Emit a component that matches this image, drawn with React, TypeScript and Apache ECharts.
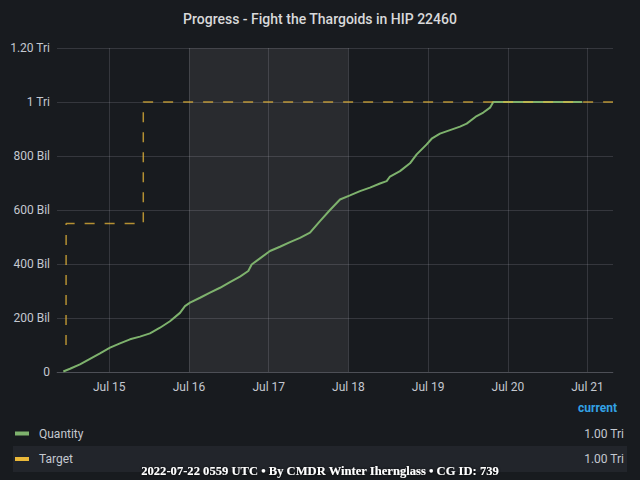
import { useEffect, useRef } from 'react';
import * as echarts from 'echarts';

const chartTitle = 'Progress - Fight the Thargoids in HIP 22460';
const footerText = '2022-07-22 0559 UTC • By CMDR Winter Ihernglass • CG ID: 739';

// Quantity delivered, in billions
const quantityTimes = [
    '2022-07-14T10:09Z', '2022-07-14T12:10Z', '2022-07-14T15:10Z', '2022-07-14T18:11Z',
    '2022-07-14T21:12Z', '2022-07-15T00:13Z', '2022-07-15T03:13Z', '2022-07-15T06:14Z',
    '2022-07-15T09:14Z', '2022-07-15T12:15Z', '2022-07-15T15:16Z', '2022-07-15T18:16Z',
    '2022-07-15T21:17Z', '2022-07-15T22:47Z', '2022-07-16T00:18Z', '2022-07-16T03:19Z',
    '2022-07-16T06:19Z', '2022-07-16T09:20Z', '2022-07-16T12:20Z', '2022-07-16T15:21Z',
    '2022-07-16T17:51Z', '2022-07-16T18:52Z', '2022-07-16T21:22Z', '2022-07-17T00:23Z',
    '2022-07-17T03:23Z', '2022-07-17T06:25Z', '2022-07-17T09:25Z', '2022-07-17T12:26Z',
    '2022-07-17T15:26Z', '2022-07-17T18:27Z', '2022-07-17T21:28Z', '2022-07-18T00:28Z',
    '2022-07-18T03:29Z', '2022-07-18T06:29Z', '2022-07-18T09:30Z', '2022-07-18T11:31Z',
    '2022-07-18T12:31Z', '2022-07-18T15:32Z', '2022-07-18T18:32Z', '2022-07-18T20:33Z',
    '2022-07-18T23:34Z', '2022-07-19T01:04Z', '2022-07-19T03:34Z', '2022-07-19T06:35Z',
    '2022-07-19T09:36Z', '2022-07-19T11:37Z', '2022-07-19T14:37Z', '2022-07-19T16:37Z',
    '2022-07-19T18:38Z', '2022-07-19T19:37Z', '2022-07-20T22:25Z'
];
const quantityValues = [
    2, 12, 28, 49,
    69, 90, 106, 121,
    131, 143, 164, 188,
    219, 244, 257, 275,
    294, 312, 333, 353,
    374, 398, 421, 448,
    464, 481, 497, 516,
    559, 600, 639, 654,
    670, 683, 698, 707,
    724, 744, 773, 806,
    843, 864, 883, 896,
    909, 920, 948, 961,
    979, 1000, 1000
];

// Target, in billions (stepped)
const targetTimes = ['2022-07-14T10:58Z', '2022-07-14T11:00Z', '2022-07-15T10:14Z', '2022-07-21T07:40Z'];
const targetValues = [100, 550, 1000, 1000];

const highlightRange = ['2022-07-16T00:00Z', '2022-07-18T00:00Z'];
const axisRange = ['2022-07-14T08:15Z', '2022-07-21T07:40Z'];

const legendNames = ['Quantity', 'Target'];
const legendColors = ['#7EB26D', '#EAB839'];
const legendCurrent = ['1.00 Tri', '1.00 Tri'];
const monthNames = ['Jan', 'Feb', 'Mar', 'Apr', 'May', 'Jun', 'Jul', 'Aug', 'Sep', 'Oct', 'Nov', 'Dec'];

const toMs = (s: string) => Date.parse(s);

const formatValue = (v: number) => {
    if (v === 0) return '0';
    if (v < 1000) return `${v} Bil`;
    if (v === 1000) return '1 Tri';
    return `${(v / 1000).toFixed(2)} Tri`;
};

const App = () => {
    const chartRef = useRef<HTMLDivElement>(null);

    useEffect(() => {
        if (!chartRef.current) return;
        const chart = echarts.init(chartRef.current, null, { renderer: 'svg' });

        const textColor = '#c4c8d0';
        const gridColor = 'rgba(204, 204, 220, 0.16)';

        const legendGraphics: any[] = [
            {
                type: 'rect',
                shape: { x: 13, y: 446, width: 614, height: 26 },
                style: { fill: '#22252b' },
                z: 1
            },
            {
                type: 'text',
                x: 617,
                y: 408,
                style: {
                    text: 'current',
                    fill: '#33a2e5',
                    font: 'bold 12px Roboto',
                    textAlign: 'right',
                    textVerticalAlign: 'middle'
                },
                z: 2
            }
        ];
        legendNames.forEach((name, i) => {
            const cy = 433.5 + i * 25.5;
            legendGraphics.push(
                {
                    type: 'rect',
                    shape: { x: 15, y: cy - 2, width: 14, height: 4 },
                    style: { fill: legendColors[i] },
                    z: 2
                },
                {
                    type: 'text',
                    x: 39,
                    y: cy,
                    style: {
                        text: name,
                        fill: textColor,
                        font: '12px Roboto',
                        textAlign: 'left',
                        textVerticalAlign: 'middle'
                    },
                    z: 2
                },
                {
                    type: 'text',
                    x: 624,
                    y: cy,
                    style: {
                        text: legendCurrent[i],
                        fill: textColor,
                        font: '12px Roboto',
                        textAlign: 'right',
                        textVerticalAlign: 'middle'
                    },
                    z: 2
                }
            );
        });
        legendGraphics.push({
            type: 'text',
            x: 320,
            y: 471,
            style: {
                text: footerText,
                fill: '#ffffff',
                font: 'bold 12.6px "Liberation Serif"',
                textAlign: 'center',
                textVerticalAlign: 'middle',
                textShadowColor: 'rgba(0,0,0,0.9)',
                textShadowBlur: 3
            },
            z: 3
        });

        chart.setOption({
            animation: false,
            useUTC: true,
            backgroundColor: '#181b1f',
            textStyle: { fontFamily: 'Roboto' },
            title: {
                text: chartTitle,
                left: 'center',
                top: 7,
                textStyle: { color: '#d8d9da', fontSize: 14, fontWeight: 500 }
            },
            grid: { left: 57, right: 27, top: 48, bottom: 108 },
            xAxis: {
                type: 'time',
                min: toMs(axisRange[0]),
                max: toMs(axisRange[1]),
                splitNumber: 7,
                minInterval: 86400000,
                maxInterval: 86400000,
                axisLine: { show: true, lineStyle: { color: gridColor } },
                axisTick: { show: false },
                splitLine: {
                    show: true,
                    showMinLine: false,
                    showMaxLine: false,
                    lineStyle: { color: gridColor, width: 1 }
                },
                axisLabel: {
                    color: textColor,
                    fontSize: 12,
                    margin: 9,
                    hideOverlap: false,
                    formatter: (val: number) => {
                        const d = new Date(val);
                        if (d.getUTCHours() !== 0 || d.getUTCMinutes() !== 0) return '';
                        return `${monthNames[d.getUTCMonth()]} ${d.getUTCDate()}`;
                    }
                }
            },
            yAxis: {
                type: 'value',
                min: 0,
                max: 1200,
                interval: 200,
                axisLine: { show: false },
                axisTick: { show: false },
                splitLine: { lineStyle: { color: gridColor, width: 1 } },
                axisLabel: {
                    color: textColor,
                    fontSize: 12,
                    margin: 7,
                    formatter: formatValue
                }
            },
            series: [
                {
                    name: legendNames[0],
                    type: 'line',
                    showSymbol: false,
                    symbol: 'none',
                    lineStyle: { color: legendColors[0], width: 2 },
                    itemStyle: { color: legendColors[0] },
                    data: quantityTimes.map((t, i) => [toMs(t), quantityValues[i]]),
                    markArea: {
                        silent: true,
                        itemStyle: { color: 'rgba(255, 255, 255, 0.075)' },
                        data: [[{ xAxis: toMs(highlightRange[0]) }, { xAxis: toMs(highlightRange[1]) }]]
                    },
                    z: 3
                },
                {
                    name: legendNames[1],
                    type: 'line',
                    step: 'end',
                    showSymbol: false,
                    symbol: 'none',
                    lineStyle: { color: legendColors[1], width: 1.5, type: [10, 10], opacity: 0.75 },
                    itemStyle: { color: legendColors[1] },
                    data: targetTimes.map((t, i) => [toMs(t), targetValues[i]]),
                    z: 4
                }
            ],
            graphic: legendGraphics
        });

        return () => {
            chart.dispose();
        };
    }, []);

    return (
        <div
            ref={chartRef}
            style={{ position: 'fixed', left: 0, top: 0, width: 640, height: 480 }}
        />
    );
};

export default App;
